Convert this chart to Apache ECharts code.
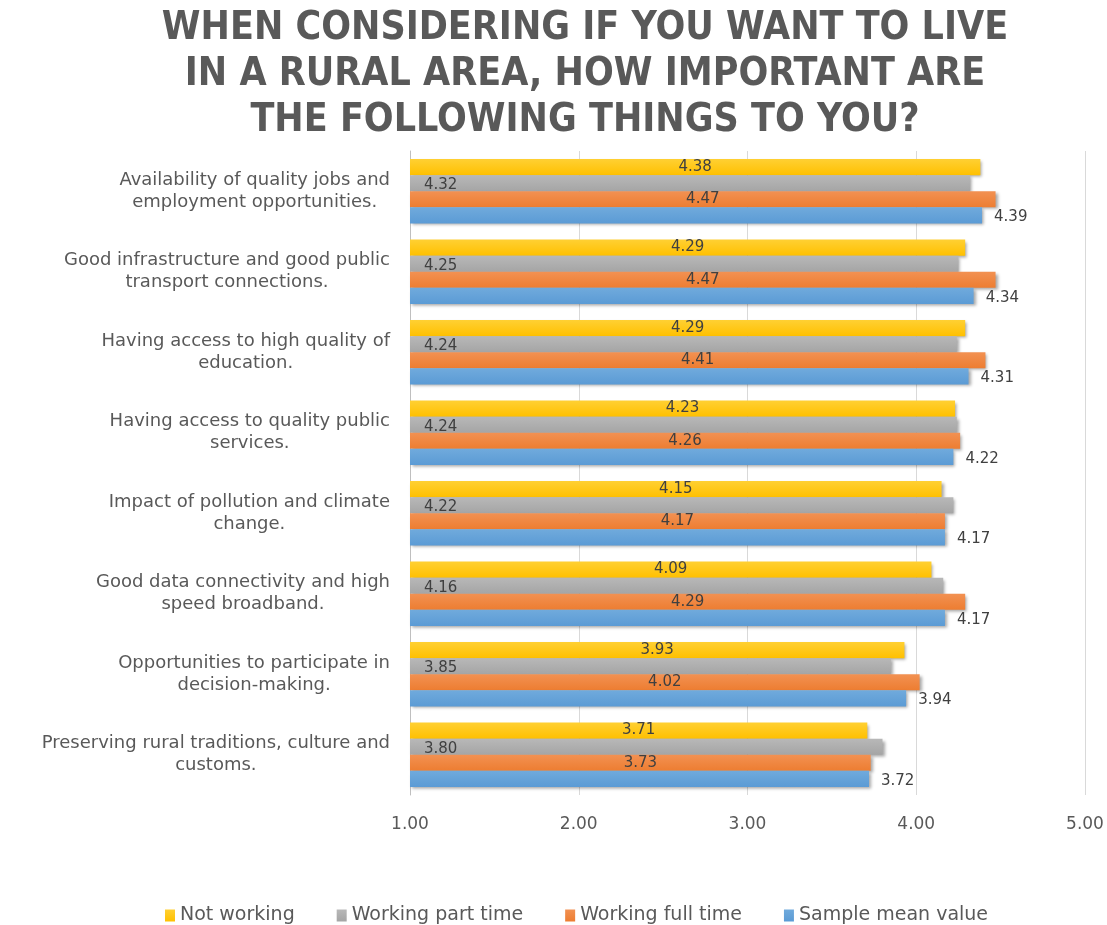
<!DOCTYPE html>
<html>
<head>
<meta charset="utf-8">
<script src="https://cdn.jsdelivr.net/npm/echarts@6/dist/echarts.min.js"></script>
<style>
html,body{margin:0;padding:0;background:#fff;}
#chart{width:1107px;height:925px;}
</style>
</head>
<body>
<div id="chart"></div>
<script>
const categories = [
  "Availability of quality jobs and\nemployment opportunities.",
  "Good infrastructure and good public\ntransport connections.",
  "Having access to high quality of\neducation.",
  "Having access to quality public\nservices.",
  "Impact of pollution and climate\nchange.",
  "Good data connectivity and high\nspeed broadband.",
  "Opportunities to participate in\ndecision-making.",
  "Preserving rural traditions, culture and\ncustoms."
];
const seriesNames = ["Not working", "Working part time", "Working full time", "Sample mean value"];
const notWorking = [4.38, 4.29, 4.29, 4.23, 4.15, 4.09, 3.93, 3.71];
const partTime   = [4.32, 4.25, 4.24, 4.24, 4.22, 4.16, 3.85, 3.80];
const fullTime   = [4.47, 4.47, 4.41, 4.26, 4.17, 4.29, 4.02, 3.73];
const sampleMean = [4.39, 4.34, 4.31, 4.22, 4.17, 4.17, 3.94, 3.72];
const xTicks = [1, 2, 3, 4, 5];

const colors = ["#FFC000", "#A5A5A5", "#ED7D31", "#5B9BD5"];
const lightColors = ["#FFD033", "#B8B8B8", "#F29152", "#70AADC"];
const labelFont = "'DejaVu Sans', sans-serif";
const textColor = "#595959";

function grad(i) {
  return new echarts.graphic.LinearGradient(0, 0, 0, 1, [
    {offset: 0, color: lightColors[i]},
    {offset: 1, color: colors[i]}
  ]);
}
const itemStyleFor = i => ({
  color: grad(i),
  shadowColor: 'rgba(0,0,0,0.35)',
  shadowBlur: 3,
  shadowOffsetX: 2,
  shadowOffsetY: 2
});
const valFmt = p => p.value.toFixed(2);
const baseLabel = {show: true, formatter: valFmt, color: '#404040', fontSize: 15, fontFamily: labelFont};

const datasets = [notWorking, partTime, fullTime, sampleMean];
const labelCfg = [
  Object.assign({}, baseLabel, {position: 'inside'}),
  Object.assign({}, baseLabel, {position: 'insideLeft', distance: 14, offset: [0, 2]}),
  Object.assign({}, baseLabel, {position: 'inside'}),
  Object.assign({}, baseLabel, {position: 'right', distance: 12, offset: [0, 2]})
];

const series = datasets.map((d, i) => ({
  name: seriesNames[i],
  type: 'bar',
  data: d,
  barGap: '0%',
  barCategoryGap: '20%',
  itemStyle: itemStyleFor(i),
  label: labelCfg[i]
}));

const chart = echarts.init(document.getElementById('chart'));
chart.setOption({
  animation: false,
  backgroundColor: '#fff',
  title: {
    text: "WHEN CONSIDERING IF YOU WANT TO LIVE\nIN A RURAL AREA, HOW IMPORTANT ARE\nTHE FOLLOWING THINGS TO YOU?",
    left: 580,
    textAlign: 'center',
    top: 1,
    textStyle: {
      fontFamily: "'Liberation Sans Narrow', 'DejaVu Sans Condensed', sans-serif",
      fontWeight: 'bold',
      fontSize: 39,
      lineHeight: 46,
      color: textColor
    }
  },
  legend: {
    top: 901,
    left: 160,
    data: seriesNames,
    itemWidth: 10,
    itemHeight: 12,
    itemGap: 42,
    icon: 'rect',
    textStyle: {fontFamily: labelFont, fontSize: 19, color: textColor}
  },
  grid: {left: 410, right: 22, top: 151, bottom: 130, containLabel: false},
  xAxis: {
    type: 'value',
    min: 1, max: 5, interval: 1,
    axisLabel: {formatter: v => v.toFixed(2), color: textColor, fontSize: 17, fontFamily: labelFont, margin: 21},
    splitLine: {show: true, lineStyle: {color: '#d9d9d9'}},
    axisLine: {show: false},
    axisTick: {show: false}
  },
  yAxis: {
    type: 'category',
    inverse: true,
    data: categories,
    axisLine: {show: true, lineStyle: {color: '#bfbfbf'}},
    axisTick: {show: false},
    axisLabel: {
      margin: 20,
      fontSize: 18,
      fontFamily: labelFont,
      color: textColor,
      lineHeight: 22,
      formatter: v => v.split('\n').map(s => '{c|' + s + '}').join('\n'),
      rich: {c: {align: 'center', fontSize: 18, fontFamily: labelFont, color: textColor, lineHeight: 22}}
    }
  },
  series: series
});
</script>
</body>
</html>
